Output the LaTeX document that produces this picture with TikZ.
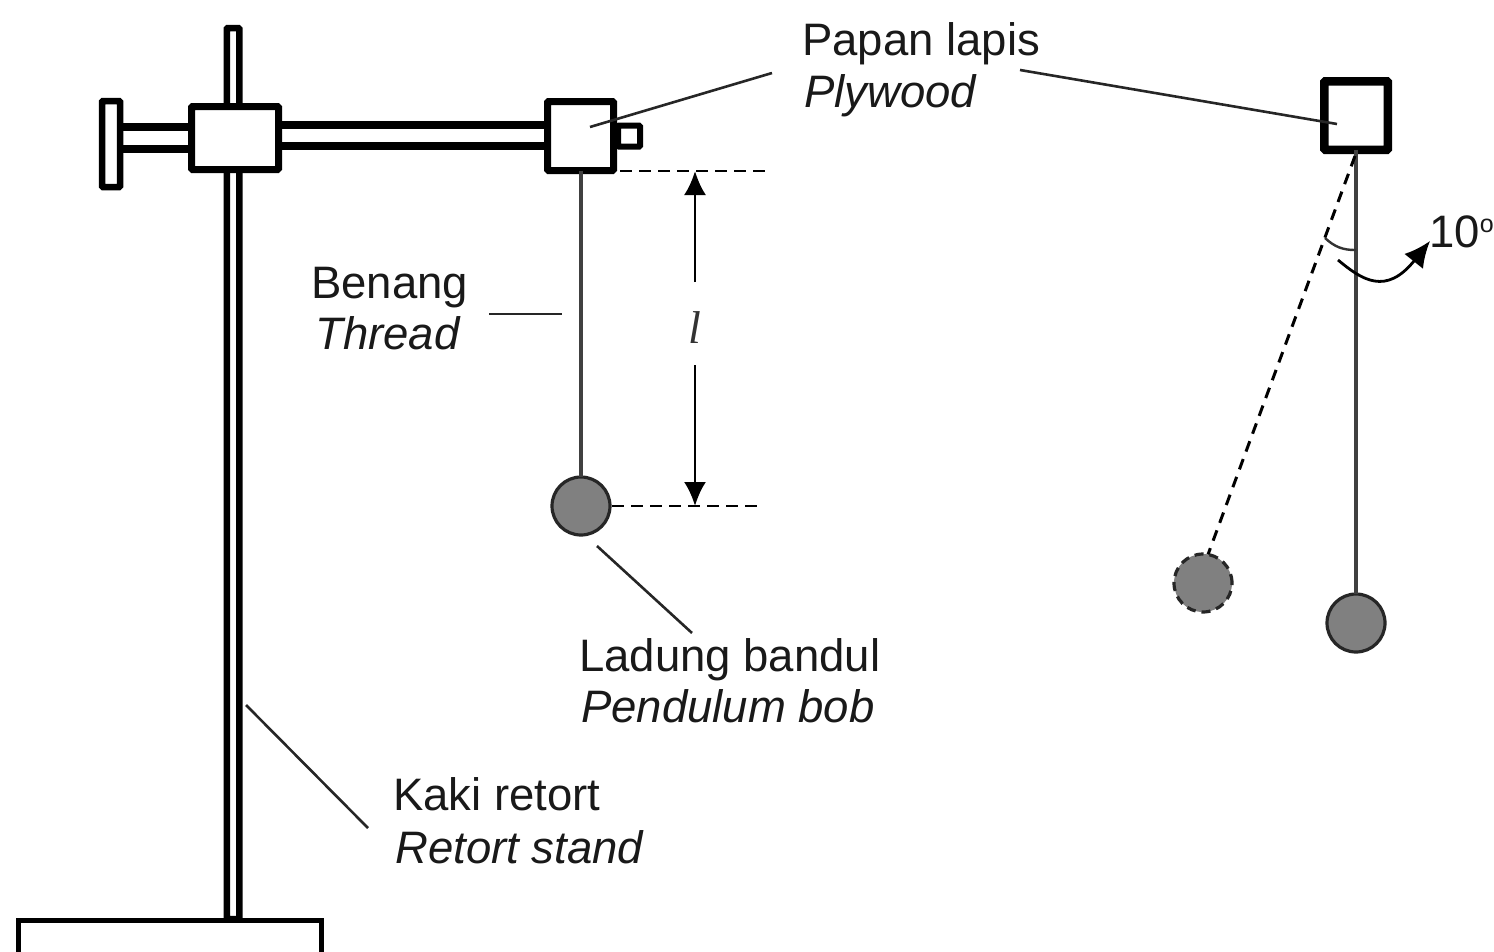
\documentclass[tikz,border=0pt]{standalone}
\usepackage{fontspec}
\setmainfont{Liberation Sans}
\newfontfamily\serifit{Liberation Serif}
\usetikzlibrary{arrows.meta}
\tikzset{
  px/.style={x=1pt,y=-1pt},
  thickbox/.style={draw=black,fill=white,line width=7pt,inner sep=0pt,outer sep=0pt,rectangle,rounded corners=1pt},
  rodline/.style={draw=black,line width=7.5pt},
  leader/.style={draw=black!85,line width=2.6pt},
  guide/.style={draw=black,line width=2.2pt,dash pattern=on 12pt off 7pt},
  thread/.style={draw=black!75,line width=3.2pt},
  bob/.style={circle,fill=black!50,draw=black!85,line width=3.2pt,minimum size=58pt,inner sep=0pt,outer sep=0pt},
  lbl/.style={anchor=base west,inner sep=0pt,font=\fontsize{45.5}{50}\selectfont,text=black!90},
  lblit/.style={lbl,font=\fontsize{45.5}{50}\selectfont\itshape},
  dimarrow/.style={draw=black,line width=2.8pt,-{Latex[length=24pt,width=22pt]}}
}
\begin{document}
\begin{tikzpicture}[px]
\useasboundingbox (0,0) rectangle (1494,951);
% base and upright rod
\node[thickbox,line width=5pt,minimum width=303pt,minimum height=60pt,rounded corners=0pt] (base) at (170,950) {};
\node[thickbox,line width=6.5pt,minimum width=12.5pt,minimum height=891pt] (rod) at (233,473.5) {};
\draw[draw=black,line width=5pt] (base.north west) -- (base.north east);
% crossbar
\node[thickbox,minimum width=18pt,minimum height=86pt,line width=6.5pt] (knob) at (111,144) {};
\coordinate (a1) at (120,127); \coordinate (a2) at (190,127);
\coordinate (b1) at (120,149); \coordinate (b2) at (190,149);
\draw[rodline] (a1) -- (a2);
\draw[rodline] (b1) -- (b2);
\node[thickbox,minimum width=22pt,minimum height=21pt,line width=6pt] (rodend) at (629,136) {};
\coordinate (c1) at (280,125); \coordinate (c2) at (548,125);
\coordinate (d1) at (280,146); \coordinate (d2) at (548,146);
\draw[rodline] (c1) -- (c2);
\draw[rodline] (d1) -- (d2);
\node[thickbox,minimum width=87pt,minimum height=63pt] (clamp) at (235,138) {};
\node[thickbox,minimum width=66pt,minimum height=69pt] (ply) at (580.5,136) {};
% pendulum
\node[bob] (bobL) at (581,506) {};
\draw[thread] (ply.south -| bobL) -- (bobL.north);
% guide lines
\coordinate (g1) at (620,171); \coordinate (g2) at (765,171);
\coordinate (g3) at (612,506); \coordinate (g4) at (757,506);
\draw[guide] (g1) -- (g2);
\draw[guide] (g3) -- (g4);
\node[inner sep=0pt,font=\fontsize{46}{50}\selectfont\serifit\itshape,text=black!80] (ell) at (695,328) {l};
\coordinate (u1) at (695,282); \coordinate (u2) at (695,171);
\coordinate (v1) at (695,365); \coordinate (v2) at (695,506);
\draw[dimarrow] (u1) -- (u2);
\draw[dimarrow] (v1) -- (v2);
% labels
\node[lbl] (papan) at (802,55) {Papan lapis};
\node[lblit] (plywood) at (804,107) {Plywood};
\node[lbl] (benang) at (311,298) {Benang};
\node[lblit] (threadlbl) at (315,349) {Thread};
\node[lbl] (ladung) at (579,671) {Ladung bandul};
\node[lblit] (bobtxt) at (581,722) {Pendulum bob};
\node[lbl] (kaki) at (393,810) {Kaki retort};
\node[lblit] (retort) at (395,863) {Retort stand};
% leaders
\coordinate (p1) at (772,73); \coordinate (p2) at (590,127);
\draw[leader] (p1) -- (p2);
\coordinate (t1) at (489,314); \coordinate (t2) at (562,314);
\draw[leader] (t1) -- (t2);
\coordinate (l1) at (597,546); \coordinate (l2) at (692,633);
\draw[leader] (l1) -- (l2);
\coordinate (k1) at (246,705); \coordinate (k2) at (368,828);
\draw[leader] (k1) -- (k2);
% right-hand pendulum
\node[thickbox,line width=8.5pt,minimum width=63.5pt,minimum height=68.5pt] (plyR) at (1356,115.5) {};
\coordinate (p3) at (1020,70); \coordinate (p4) at (1337,124);
\draw[leader] (p3) -- (p4);
\node[bob] (bobR) at (1356,623) {};
\draw[thread] (plyR.south) -- (bobR.north);
\node[bob,dash pattern=on 9pt off 6pt] (bobD) at (1203,583) {};
\coordinate (s1) at (1355,156);
\draw[draw=black,line width=3pt,dash pattern=on 11pt off 8pt] (s1) -- (bobD.80);
\coordinate (q1) at (1325,238); \coordinate (q2) at (1356,250);
\draw[draw=black!80,line width=2.4pt] (q1) to[bend right=22] (q2);
\coordinate (r1) at (1338,260); \coordinate (r2) at (1430,241);
\draw[draw=black,line width=2.8pt,-{Latex[length=26pt,width=24pt]}] (r1) .. controls (1362,280) and (1386,296) .. (r2);
\node[lbl] (ten) at (1429,247) {10\raisebox{15pt}{\fontsize{25}{25}\selectfont o}};
\end{tikzpicture}
\end{document}
